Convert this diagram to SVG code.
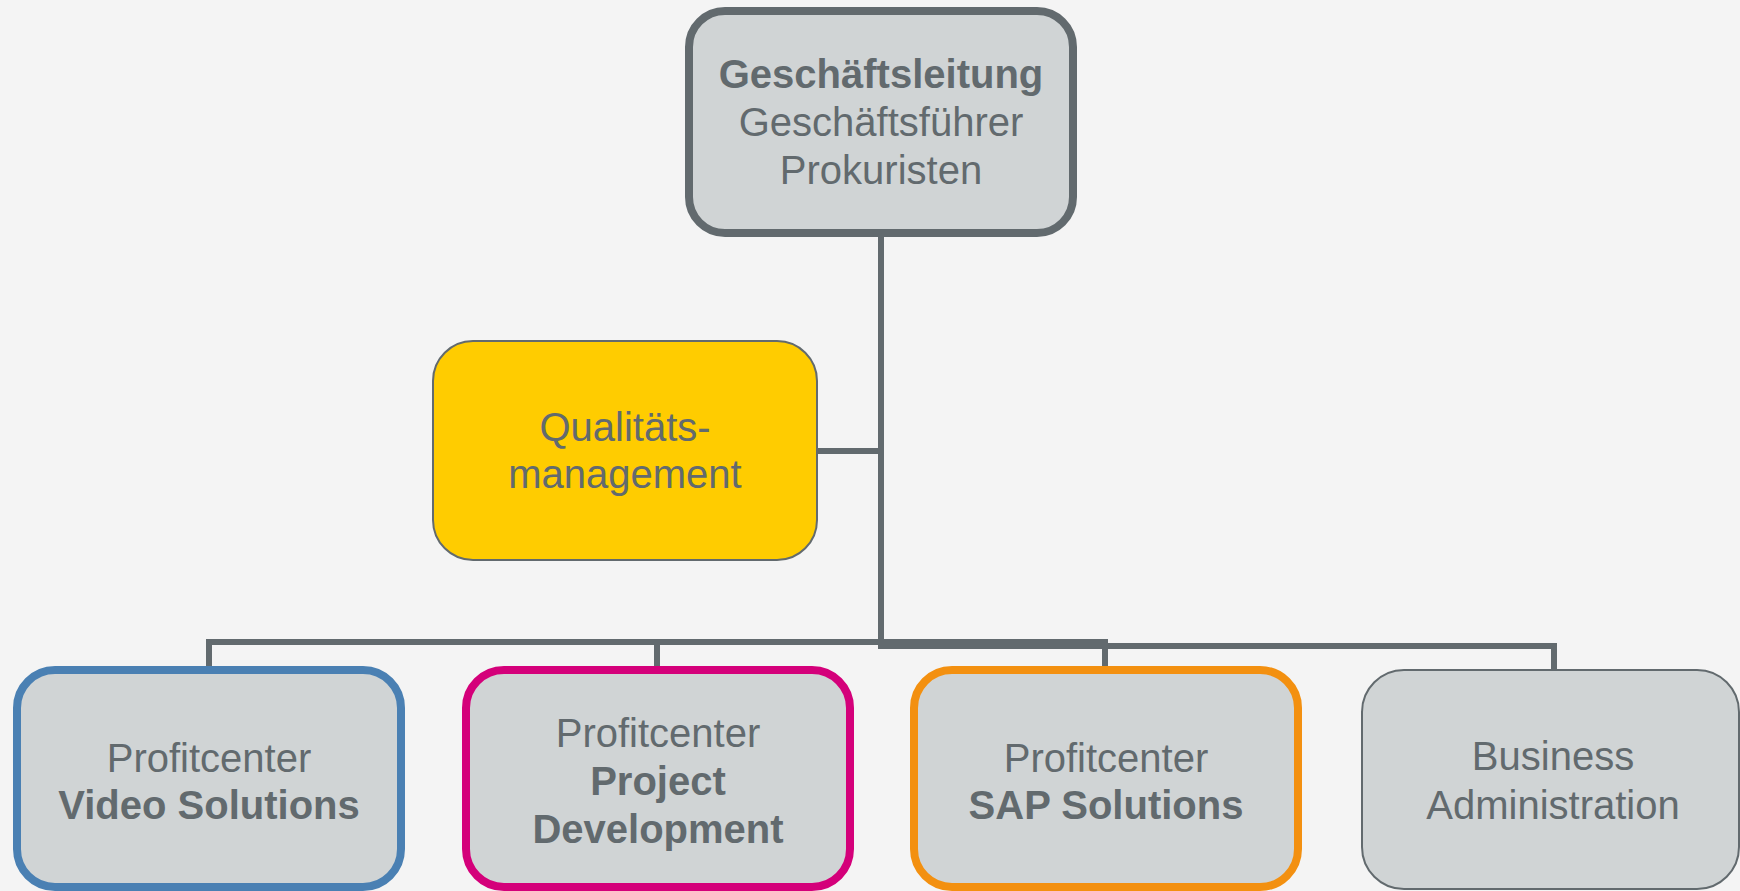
<svg xmlns="http://www.w3.org/2000/svg" width="1740" height="891" viewBox="0 0 1740 891">
<style>
text{font-family:"Liberation Sans",Arial,sans-serif;font-size:40px;fill:#626a6e;text-anchor:middle}
.b{font-weight:bold}
.box{fill:#d0d4d5}
.thick{stroke-width:8}
.thin{stroke:#626a6e;stroke-width:2}
.conn{fill:none;stroke:#626a6e;stroke-width:6}
</style>
<rect x="0" y="0" width="1740" height="891" fill="#f4f4f4"/>
<g id="connectors">
<path class="conn" d="M881,231 V649"/>
<path class="conn" d="M817,451 H881"/>
<path class="conn" d="M209,666 V642 H1105 V666"/>
<path class="conn" d="M657,642 V666"/>
<path class="conn" d="M878,646 H1554 V670"/>
</g>
<g id="geschaeftsleitung">
<rect class="box thick" x="689" y="11" width="384" height="222" rx="36" stroke="#626a6e"/>
<text x="881" y="88" class="b">Geschäftsleitung</text>
<text x="881" y="136">Geschäftsführer</text>
<text x="881" y="184">Prokuristen</text>
</g>
<g id="qualitaet">
<rect x="433" y="341" width="384" height="219" rx="40" fill="#ffcc00" class="thin"/>
<text x="625" y="441">Qualitäts-</text>
<text x="625" y="488">management</text>
</g>
<g id="video">
<rect class="box thick" x="17" y="670" width="384" height="217" rx="38" stroke="#4a80b3"/>
<text x="209" y="772">Profitcenter</text>
<text x="209" y="819" class="b">Video Solutions</text>
</g>
<g id="project">
<rect class="box thick" x="466" y="670" width="384" height="217" rx="38" stroke="#d4007a"/>
<text x="658" y="747">Profitcenter</text>
<text x="658" y="795" class="b">Project</text>
<text x="658" y="843" class="b">Development</text>
</g>
<g id="sap">
<rect class="box thick" x="914" y="670" width="384" height="217" rx="38" stroke="#f39010"/>
<text x="1106" y="772">Profitcenter</text>
<text x="1106" y="819" class="b">SAP Solutions</text>
</g>
<g id="business">
<rect class="box thin" x="1362" y="670" width="377" height="219" rx="42"/>
<text x="1553" y="770">Business</text>
<text x="1553" y="819">Administration</text>
</g>
</svg>
